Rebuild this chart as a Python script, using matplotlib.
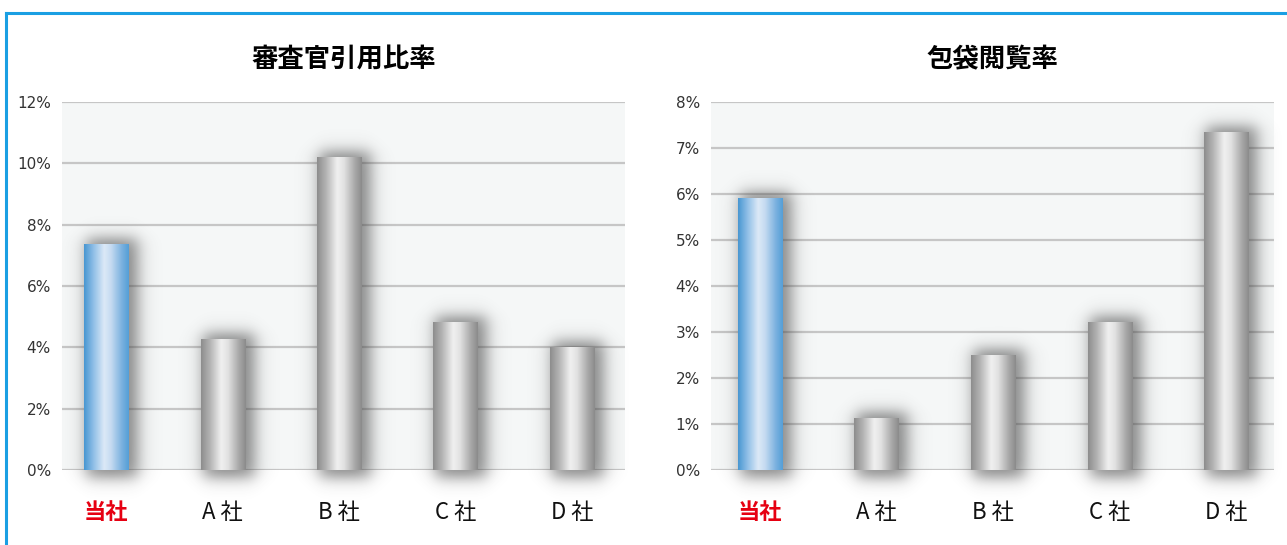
import matplotlib.pyplot as plt
import numpy as np
from matplotlib.lines import Line2D

plt.rcParams['font.family'] = ['DejaVu Sans', 'Noto Sans CJK JP']

categories = ['当社', 'A 社', 'B 社', 'C 社', 'D 社']
cite_rate = [7.35, 4.25, 10.2, 4.8, 4.0]      # 審査官引用比率 (%)
view_rate = [5.9, 1.13, 2.5, 3.2, 7.33]       # 包袋閲覧率 (%)
titles = ['審査官引用比率', '包袋閲覧率']

W, H = 1287, 545
fig = plt.figure(figsize=(W / 100, H / 100), dpi=100)

gray_stops = [(0.0, '#8e8e8e'), (0.2, '#b4b4b4'), (0.45, '#f0f0f0'), (0.6, '#e2e2e2'), (0.85, '#a8a8a8'), (1.0, '#8c8c8c')]
blue_stops = [(0.0, '#4a98d2'), (0.2, '#8dbde6'), (0.45, '#dce9f7'), (0.6, '#c6dbf1'), (0.85, '#7ab1df'), (1.0, '#559fd7')]


def hex2rgb(h):
    return np.array([int(h[i:i + 2], 16) / 255 for i in (1, 3, 5)])


def gradient(stops, n=64):
    xs = np.linspace(0, 1, n)
    pos = [s[0] for s in stops]
    cols = np.array([hex2rgb(s[1]) for s in stops])
    img = np.stack([np.interp(xs, pos, cols[:, k]) for k in range(3)], axis=-1)
    return img[np.newaxis, :, :]


def soft_box(t, a, b, s):
    return 0.5 * (np.tanh((t - a) / s) - np.tanh((t - b) / s))


def draw_panel(rect, values, ymax, title, xlim):
    ax = fig.add_axes(rect)
    ax.set_facecolor('#f5f7f7')
    ax.set_xlim(*xlim)
    ax.set_ylim(0, ymax)
    ax.set_yticks(np.arange(0, ymax + 0.1, 2 if ymax > 8 else 1))
    ax.yaxis.grid(True, color='#c6c6c6', lw=1.6)
    ax.set_axisbelow(True)
    for sp in ax.spines.values():
        sp.set_visible(False)
    ax.tick_params(length=0, labelsize=11, colors='#333333', pad=8)
    ax.set_yticklabels([f'{v:.0f}%' for v in ax.get_yticks()])

    ax_w = rect[2] * W
    ax_h = rect[3] * H
    px_x = (xlim[1] - xlim[0]) / ax_w
    px_y = ymax / ax_h
    bw = 0.378
    for i, v in enumerate(values):
        x0, x1 = i - bw / 2, i + bw / 2
        # soft shadow behind the bar
        m = 40
        sx0, sx1 = x0 - m * px_x, x1 + m * px_x
        sy0, sy1 = -m * px_y, v + m * px_y
        xs = np.linspace(sx0, sx1, 160)
        ys = np.linspace(sy0, sy1, 400)
        fxp = soft_box(xs, x0 + 2 * px_x, x1 + 9 * px_x, 10 * px_x)
        fyp = soft_box(ys, -8 * px_y, v + 6 * px_y, 9 * px_y)
        alpha = 0.62 * np.outer(fyp[::-1], fxp)
        sh = np.zeros((len(ys), len(xs), 4))
        sh[..., :3] = 0.25
        sh[..., 3] = alpha
        ax.imshow(sh, extent=(sx0, sx1, sy0, sy1), aspect='auto', zorder=2,
                  clip_on=False, interpolation='bilinear')
        img = gradient(blue_stops if i == 0 else gray_stops)
        ax.imshow(img, extent=(x0, x1, 0, v), aspect='auto', zorder=3,
                  interpolation='bilinear')
    ax.set_xlim(*xlim)
    ax.set_ylim(0, ymax)
    ax.set_xticks(range(len(categories)))
    ax.set_xticklabels(categories, fontsize=16, color='#111111',
                       family=['Noto Sans CJK JP', 'DejaVu Sans'])
    ax.tick_params(axis='x', pad=22)
    lab = ax.get_xticklabels()[0]
    lab.set_color('#e60012')
    lab.set_fontweight('bold')
    cx = rect[0] + rect[2] / 2
    fig.text(cx, 1 - 60 / H, title, ha='center', va='center', fontsize=19,
             fontweight='bold', family=['Noto Sans CJK JP', 'DejaVu Sans'])
    return ax


def fx(p):
    return p / W


def fy(p):
    return 1 - p / H


draw_panel([fx(62), fy(470), fx(625 - 62), (470 - 102) / H], cite_rate, 12,
           titles[0], (-0.378, 4.455))
draw_panel([fx(711), fy(470), fx(1274 - 711), (470 - 102) / H], view_rate, 8,
           titles[1], (-0.42, 4.41))

# blue frame (top and left)
fig.add_artist(Line2D([fx(6), 1.0], [fy(13), fy(13)], color='#1a9fe3', lw=2.2))
fig.add_artist(Line2D([fx(6), fx(6)], [fy(13), 0.0], color='#1a9fe3', lw=2.2))

fig.savefig('out.png', dpi=100)
